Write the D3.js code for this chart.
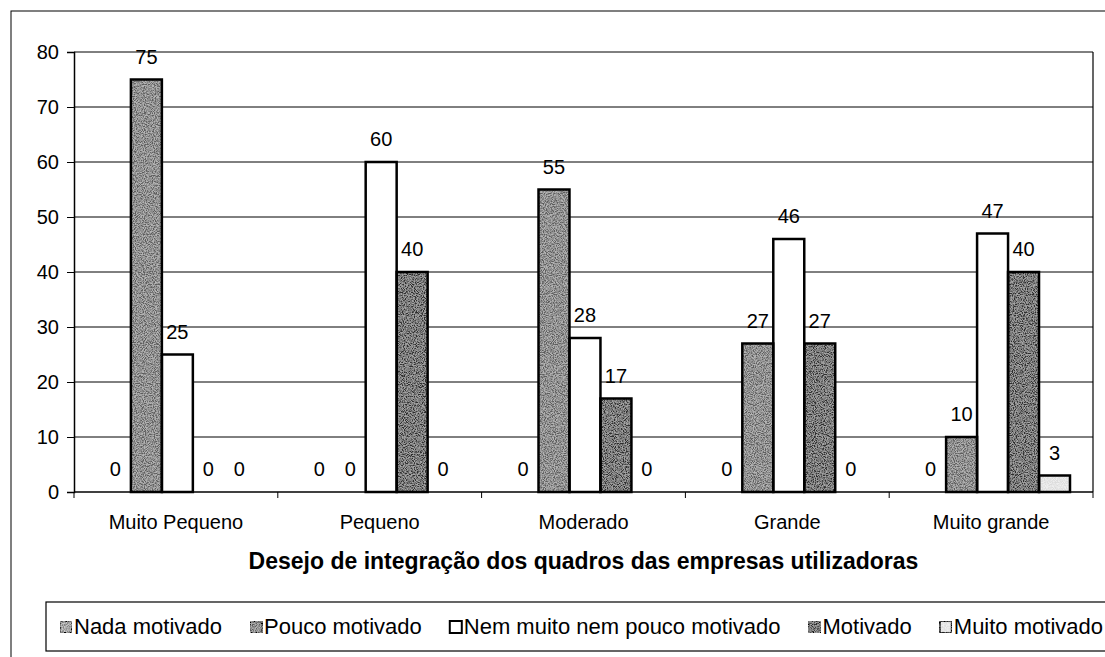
<!DOCTYPE html>
<html>
<head>
<meta charset="utf-8">
<script src="https://cdn.jsdelivr.net/npm/d3@7"></script>
<style>
  html, body { margin: 0; padding: 0; background: #fff; }
  svg { display: block; font-family: "Liberation Sans", Arial, sans-serif; }
</style>
</head>
<body>
<svg id="chart" width="1105" height="657"></svg>
<script>
// Categories along the x axis
const categories = ["Muito Pequeno", "Pequeno", "Moderado", "Grande", "Muito grande"];

// Series (one per motivation level), percentages per category
const seriesNames = ["Nada motivado", "Pouco motivado", "Nem muito nem pouco motivado", "Motivado", "Muito motivado"];
const nadaMotivado      = [0, 0, 0, 0, 0];
const poucoMotivado     = [75, 0, 55, 27, 10];
const nemMuitoNemPouco  = [25, 60, 28, 46, 47];
const motivado          = [0, 40, 17, 27, 40];
const muitoMotivado     = [0, 0, 0, 0, 3];

const yTicks = [0, 10, 20, 30, 40, 50, 60, 70, 80];
const axisTitle = "Desejo de integração dos quadros das empresas utilizadoras";

const seriesValues = [nadaMotivado, poucoMotivado, nemMuitoNemPouco, motivado, muitoMotivado];
const fills = ["#a0a0a0", "#727272", "#ffffff", "#3c3c3c", "#ececec"];
const grain = ["grain", "grain", null, "grain", "grainLight"];

const svg = d3.select("#chart");

// speckled texture used for the shaded fills
const defs = svg.append("defs");
function makeGrain(id, alpha) {
  const f = defs.append("filter").attr("id", id)
    .attr("x", 0).attr("y", 0).attr("width", 1).attr("height", 1);
  f.append("feTurbulence").attr("type", "fractalNoise").attr("baseFrequency", 0.9)
    .attr("numOctaves", 2).attr("seed", 7).attr("result", "noise");
  f.append("feColorMatrix").attr("in", "noise").attr("type", "matrix")
    .attr("values", `3 0 0 0 -1  3 0 0 0 -1  3 0 0 0 -1  0 0 0 0 ${alpha}`).attr("result", "speck");
  f.append("feComposite").attr("in", "speck").attr("in2", "SourceGraphic").attr("operator", "in").attr("result", "speckIn");
  const m = f.append("feMerge");
  m.append("feMergeNode").attr("in", "SourceGraphic");
  m.append("feMergeNode").attr("in", "speckIn");
}
makeGrain("grain", 0.35);
makeGrain("grainLight", 0.15);

// outer chart frame
svg.append("rect").attr("x", 11).attr("y", 11).attr("width", 1200).attr("height", 800)
  .attr("fill", "none").attr("stroke", "#000").attr("stroke-width", 1);

const plot = { left: 74, right: 1093, top: 52, bottom: 492 };

const x = d3.scaleBand().domain(categories).range([plot.left, plot.right]).padding(0);
const xs = d3.scaleBand().domain(seriesNames).range([0, x.bandwidth()])
  .paddingInner(0).paddingOuter(0.79).align(0.53);
const y = d3.scaleLinear().domain([0, 80]).range([plot.bottom, plot.top]);

// horizontal gridlines
svg.append("g").selectAll("line").data(yTicks.filter(t => t > 0)).join("line")
  .attr("x1", plot.left).attr("x2", plot.right)
  .attr("y1", d => y(d)).attr("y2", d => y(d))
  .attr("stroke", "#000").attr("stroke-width", 1);

// right edge of plot area
svg.append("line").attr("x1", plot.right).attr("x2", plot.right)
  .attr("y1", plot.top).attr("y2", plot.bottom).attr("stroke", "#000").attr("stroke-width", 1.2);

// y axis
const yAxis = d3.axisLeft(y).tickValues(yTicks).tickSize(7).tickPadding(8);
const gy = svg.append("g").attr("transform", `translate(${plot.left},0)`).call(yAxis);
gy.select(".domain").attr("stroke", "#000").attr("stroke-width", 1.5);
gy.selectAll(".tick line").attr("stroke", "#000");
gy.selectAll(".tick text").attr("font-size", 20).attr("fill", "#000")
  .attr("font-family", "'Liberation Sans', Arial, sans-serif");

// bars
const rows = [];
categories.forEach((c, i) => {
  seriesNames.forEach((s, j) => rows.push({ cat: c, ser: s, j, v: seriesValues[j][i] }));
});

const gBars = svg.append("g");
const barRows = rows.filter(d => d.v > 0);
gBars.selectAll("rect.fill").data(barRows).join("rect")
  .attr("class", "fill")
  .attr("x", d => x(d.cat) + xs(d.ser))
  .attr("y", d => y(d.v))
  .attr("width", xs.bandwidth())
  .attr("height", d => y(0) - y(d.v))
  .attr("fill", d => fills[d.j])
  .attr("filter", d => grain[d.j] ? `url(#${grain[d.j]})` : null);
gBars.selectAll("rect.edge").data(barRows).join("rect")
  .attr("class", "edge")
  .attr("x", d => x(d.cat) + xs(d.ser))
  .attr("y", d => y(d.v))
  .attr("width", xs.bandwidth())
  .attr("height", d => y(0) - y(d.v))
  .attr("fill", "none").attr("stroke", "#000").attr("stroke-width", 2.5);

// x axis line and category ticks
svg.append("line").attr("x1", plot.left).attr("x2", plot.right)
  .attr("y1", y(0)).attr("y2", y(0)).attr("stroke", "#000").attr("stroke-width", 1.5);
const bounds = categories.map(c => x(c)).concat([plot.right]);
svg.append("g").selectAll("line").data(bounds).join("line")
  .attr("x1", d => d).attr("x2", d => d)
  .attr("y1", y(0)).attr("y2", y(0) + 6).attr("stroke", "#000").attr("stroke-width", 1);

// category labels
svg.append("g").selectAll("text").data(categories).join("text")
  .attr("x", d => x(d) + x.bandwidth() / 2).attr("y", 529)
  .attr("text-anchor", "middle").attr("font-size", 20).text(d => d);

// value labels
svg.append("g").selectAll("text").data(rows).join("text")
  .attr("x", d => x(d.cat) + xs(d.ser) + xs.bandwidth() / 2)
  .attr("y", d => y(d.v) - 16)
  .attr("text-anchor", "middle").attr("font-size", 20).text(d => d.v);

// axis title
svg.append("text").attr("x", (plot.left + plot.right) / 2).attr("y", 569)
  .attr("text-anchor", "middle").attr("font-size", 23).attr("font-weight", "bold").text(axisTitle);

// legend
svg.append("rect").attr("x", 46).attr("y", 602).attr("width", 1200).attr("height", 49)
  .attr("fill", "none").attr("stroke", "#000").attr("stroke-width", 1.2);

const legendFont = 22;
const gLeg = svg.append("g");
const items = gLeg.selectAll("g").data(seriesNames).join("g");
items.append("text").attr("font-size", legendFont).attr("y", 634).text(d => d);
const widths = [];
items.select("text").each(function () { widths.push(this.getComputedTextLength()); });
const sw = 12, swGap = 2, startX = 60, endX = 1103;
const used = d3.sum(widths) + seriesNames.length * (sw + swGap);
const gap = (endX - startX - used) / (seriesNames.length - 1);
let cx = startX;
items.each(function (d, i) {
  const g = d3.select(this);
  g.insert("rect", "text").attr("x", cx).attr("y", 621).attr("width", sw).attr("height", sw)
    .attr("fill", fills[i]).attr("stroke", "#000").attr("stroke-width", 2)
    .attr("filter", grain[i] ? `url(#${grain[i]})` : null);
  g.select("text").attr("x", cx + sw + swGap);
  cx += sw + swGap + widths[i] + gap;
});
</script>
</body>
</html>
